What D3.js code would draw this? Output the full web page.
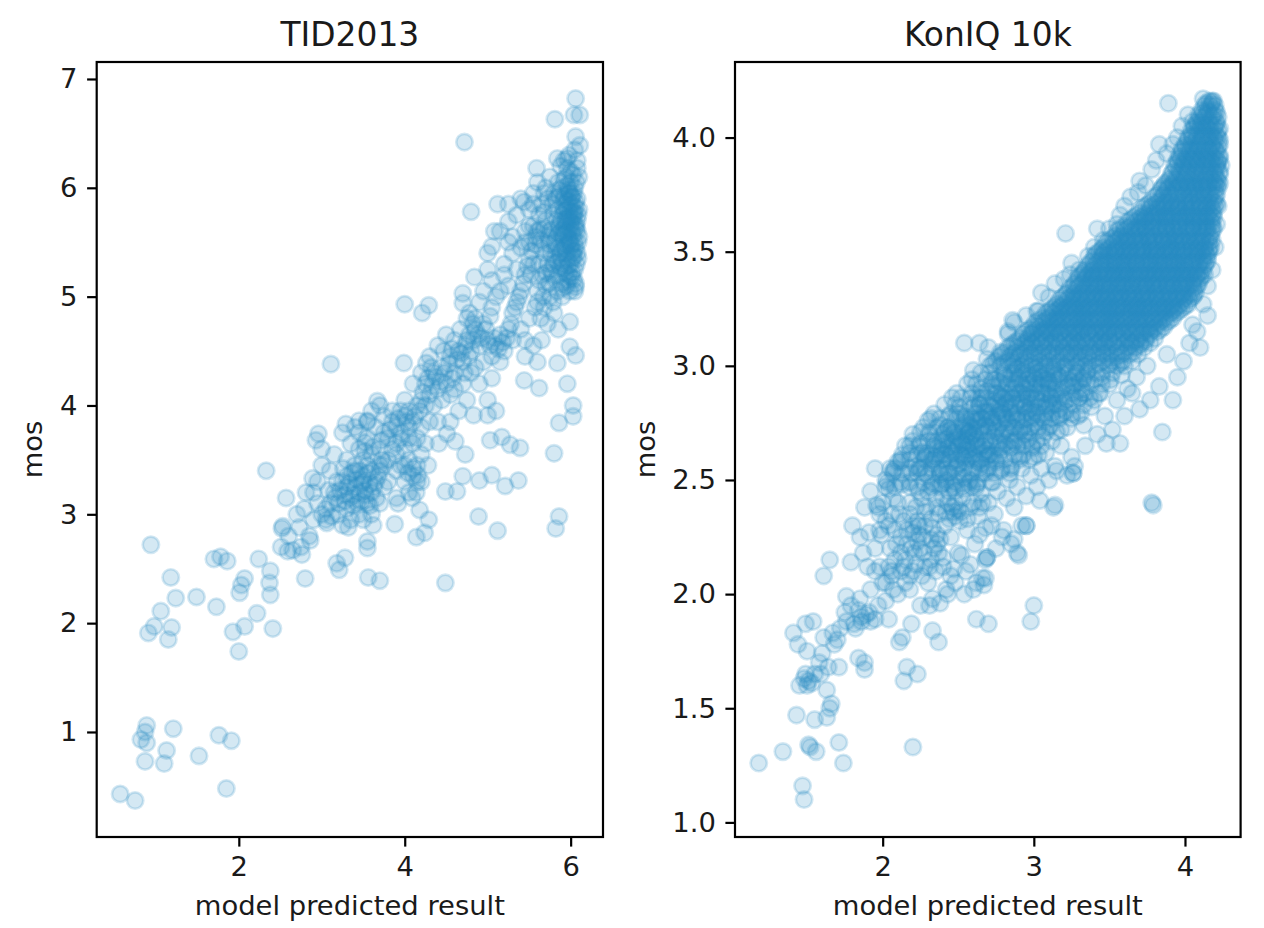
<!DOCTYPE html>
<html>
<head>
<meta charset="utf-8">
<script src="https://cdn.jsdelivr.net/npm/d3@7"></script>
<style>
  body { margin: 0; background: #fff; }
  svg { display: block; }
</style>
</head>
<body>
<svg id="chart" width="1264" height="928"></svg>
<script>
// ---- data ----

// TID2013: [model predicted result, mos]
const tidPoints = [
  // bottom-left group
  [0.57,0.43],[0.75,0.37],[0.89,1.06],[0.87,1.00],[0.82,0.93],[0.89,0.90],[0.87,0.73],[1.13,0.83],[1.10,0.71],[1.21,1.03],
  [1.52,0.78],[1.76,0.97],[1.91,0.92],[1.85,0.48],
  // lower middle
  [0.94,2.72],[1.18,2.42],[1.24,2.23],[1.06,2.11],[0.98,1.97],[0.91,1.91],[1.19,1.96],[1.15,1.85],[1.49,2.24],[1.73,2.15],
  [1.70,2.59],[1.78,2.61],[1.86,2.57],[1.93,1.92],[2.00,1.74],[2.07,1.97],[2.01,2.28],[2.03,2.35],[2.07,2.41],[2.22,2.09],
  [2.24,2.59],[2.38,2.48],[2.37,2.37],[2.38,2.26],[2.41,1.95],[2.33,3.40],[2.80,2.41],[2.86,2.76],[2.76,2.63],[2.65,2.67],
  [2.51,2.70],[2.59,2.66],[2.52,2.87],[2.53,2.89],[2.73,2.88],[2.57,3.15],[2.79,3.05],[2.81,3.20],[2.89,3.33],[3.06,2.92],
  [3.18,2.55],[3.28,2.60],[3.21,2.49],[3.55,2.69],[3.55,2.75],[3.56,2.42],[3.70,2.39],[3.88,2.91],[3.92,3.10],[4.14,2.79],
  [4.24,2.83],[4.29,2.95],[4.18,3.04],[4.49,2.37],[4.49,3.21],[4.63,3.21],[4.70,3.35],[4.90,3.31],[5.05,3.36],[5.21,3.26],
  [5.37,3.31],[4.89,2.98],[5.12,2.85],[5.86,2.98],[5.82,2.87],
  [2.60,2.80],[2.70,3.00],[2.75,2.70],[2.90,2.95],[2.95,3.10],[3.05,3.05],[2.85,2.80],
  // dense group around 3.4 / 3.2
  [3.15,3.20],[3.20,3.10],[3.25,3.30],[3.30,3.05],[3.35,3.15],[3.40,3.25],[3.45,3.00],[3.50,3.35],[3.55,3.10],[3.60,3.20],
  [3.65,3.30],[3.70,3.40],[3.50,2.95],[3.40,3.45],[3.30,3.35],[3.20,3.00],[3.10,3.10],[3.60,3.00],[3.70,3.10],[3.75,3.25],
  [3.45,3.20],[3.35,2.95],[3.55,3.45],[3.62,2.90],[3.00,3.00],[3.05,2.95],[3.25,2.90],[3.38,3.08],[3.48,3.12],[3.58,3.28],
  [3.42,3.32],[3.28,3.18],[3.18,3.30],[3.52,3.22],[3.66,3.15],[3.72,3.50],[3.12,2.98],[3.32,2.88],
  [3.22,3.22],[3.28,3.12],[3.33,3.28],[3.38,3.18],[3.43,3.10],[3.48,3.28],[3.53,3.18],[3.58,3.08],[3.63,3.25],[3.68,3.35],
  [3.36,3.38],[3.46,3.40],[3.56,3.38],[3.26,3.42],[3.16,3.15],[3.08,3.22],
  [4.04,3.38],[4.10,3.42],[4.16,3.36],[4.28,3.45],[4.14,3.20],[4.09,3.15],[4.20,3.30],[4.00,3.45],
  // middle
  [3.50,3.50],[3.60,3.55],[3.70,3.60],[3.80,3.70],[3.90,3.80],[4.00,3.90],[3.85,3.85],[3.75,3.90],[3.65,3.80],[3.55,3.70],
  [3.45,3.60],[3.95,3.75],[4.05,3.80],[4.10,3.85],[3.70,3.45],[3.80,3.50],[3.90,3.55],[4.00,3.60],[4.10,3.65],[4.15,3.70],
  [4.20,3.80],[3.60,3.40],[3.50,3.30],[3.40,3.40],[3.30,3.50],[3.45,3.75],[3.60,3.95],[3.75,3.75],[3.90,3.65],[4.05,3.50],
  [4.15,3.45],[4.20,3.55],[4.10,3.35],[4.00,3.30],[3.90,3.40],[3.80,3.30],[4.25,3.65],[4.30,3.85],[3.85,3.95],[3.95,3.95],
  [4.00,4.05],[3.70,4.00],[3.55,3.85],[3.35,3.65],[4.05,3.70],[3.95,3.45],[4.15,3.30],[4.05,3.20],[3.90,3.15],[3.30,3.25],
  [3.10,3.40],[2.95,3.30],[3.00,3.45],[2.90,3.20],[3.15,3.55],[3.25,3.75],[3.00,3.60],[3.40,3.80],
  [3.75,3.45],[3.85,3.60],[3.95,3.70],[4.02,3.85],[3.92,3.88],[3.82,3.78],[3.72,3.68],[3.62,3.62],[3.52,3.58],
  // upper outliers and fringe
  [3.11,4.38],[3.99,4.39],[4.00,4.93],[4.21,4.85],[4.29,4.92],[4.26,4.39],[3.67,4.04],[3.29,3.83],[3.45,3.86],[3.55,3.86],
  [2.93,3.68],[2.96,3.74],[3.52,3.66],[4.72,6.42],[4.80,5.78],[4.70,5.03],[4.70,4.94],[4.84,5.18],[4.85,4.80],[5.03,4.82],
  [5.00,5.40],[5.05,5.46],[5.08,5.60],[5.12,5.85],[5.25,5.85],[5.25,5.69],[5.44,5.87],[5.59,6.18],[5.81,6.63],[6.06,6.82],
  [6.04,6.67],[6.11,6.67],[6.11,6.39],[6.06,6.47],[5.84,6.27],[5.96,6.27],[6.06,5.09],[6.06,4.46],[5.96,4.20],[6.03,4.00],
  [6.03,3.90],[5.86,3.84],[5.80,3.56],[5.84,4.39],[5.99,4.54],[5.99,4.77],[5.62,4.16],[5.44,4.23],[5.03,3.68],[5.17,3.71],
  [5.27,3.64],[5.39,3.61],[4.83,3.91],[5.00,3.91],[4.73,3.55],[4.61,3.67],[4.51,3.74],[4.41,3.65],
  // rising band
  [4.20,4.05],[4.25,4.20],[4.30,4.10],[4.35,4.30],[4.40,4.15],[4.45,4.35],[4.50,4.20],[4.55,4.45],[4.60,4.30],[4.65,4.50],
  [4.70,4.40],[4.75,4.60],[4.80,4.50],[4.85,4.70],[4.90,4.55],[4.95,4.75],[5.00,4.60],[5.05,4.45],[5.10,4.55],[5.15,4.65],
  [5.20,4.50],[5.25,4.70],[5.30,4.85],[5.35,4.95],[5.40,5.05],[5.45,5.20],[5.50,5.35],[5.35,5.25],[5.25,5.10],[5.20,5.20],
  [5.15,5.05],[5.40,4.70],[5.45,4.60],[5.50,4.80],[5.30,4.60],[4.40,4.55],[4.50,4.65],[4.60,4.60],[4.75,4.80],[4.78,4.85],
  [4.82,4.75],[4.90,4.95],[4.30,4.45],[4.20,4.30],[4.10,4.20],[4.15,4.00],[4.05,3.95],[4.35,4.00],[4.45,4.05],[4.55,4.10],
  [4.60,4.15],[4.70,4.20],[4.80,4.30],[4.85,4.35],[4.95,4.40],[5.05,4.25],[5.15,4.40],[4.65,3.95],[4.75,4.05],[4.90,4.20],
  [5.00,4.05],[5.10,3.95],[4.55,3.85],[4.40,3.85],[5.45,4.45],[5.55,4.55],[5.60,4.40],[5.50,5.50],[5.45,5.60],[5.40,5.45],
  [5.55,5.65],[5.50,5.80],[5.30,5.40],[5.05,4.90],[5.10,5.00],
  [5.30,5.55],[5.35,5.75],[5.40,5.90],[5.45,5.50],[5.50,5.65],[5.55,5.95],[5.60,6.05],[5.65,5.85],[5.20,5.30],[5.25,5.50],
  [5.15,5.60],[5.05,5.15],[5.00,5.25],[4.95,5.05],[5.70,6.00],[5.60,5.60],[5.52,5.20],
  [4.22,4.12],[4.28,4.25],[4.33,4.18],[4.38,4.26],[4.43,4.22],[4.48,4.30],[4.53,4.38],[4.58,4.25],[4.63,4.42],[4.68,4.48],
  [4.73,4.55],[4.78,4.65],[4.83,4.60],[4.88,4.65],[4.93,4.62],[4.98,4.70],[5.03,4.55],[5.08,4.62],[5.13,4.52],[5.18,4.58],
  [5.23,4.62],[5.28,4.75],[5.33,4.90],[5.38,5.00],[5.43,5.12],[5.48,5.28],[5.53,5.42],[4.18,3.95],[4.12,3.90],[4.25,4.00],
  [4.32,4.35],[4.47,4.50],[4.57,4.52],[4.67,4.70],[4.72,4.30],[4.77,4.45],[5.58,5.48],[5.63,5.62],[5.68,5.78],[5.73,5.90],
  // dense column near 6
  [5.95,6.10],[6.00,6.05],[6.05,6.00],[5.98,5.95],[6.08,5.90],[5.92,5.90],[6.02,5.85],[5.96,5.80],[6.10,5.80],[6.04,5.75],
  [5.90,5.75],[6.00,5.70],[6.07,5.65],[5.94,5.65],[6.02,5.60],[5.88,5.60],[6.10,5.55],[5.97,5.55],[6.05,5.50],[5.92,5.50],
  [6.00,5.45],[5.85,5.45],[6.08,5.40],[5.95,5.40],[6.02,5.35],[5.90,5.30],[6.05,5.25],[5.98,5.20],[5.86,5.20],[6.00,6.15],
  [5.90,6.00],[6.10,6.10],[6.04,5.95],[5.94,5.85],[6.08,5.70],[5.99,5.62],[5.93,5.58],[6.06,5.45],[5.88,5.35],[6.00,5.30],
  [5.82,5.15],[5.95,5.10],[6.05,5.05],[5.90,5.00],[5.85,6.05],[5.80,5.95],[5.78,5.85],[5.83,5.70],[5.75,5.60],[5.80,5.50],
  [5.76,5.40],[5.72,5.30],[5.78,5.20],[5.70,5.10],[5.75,5.00],[5.68,4.90],[5.80,4.85],[5.72,4.75],[5.65,4.60],[5.85,4.70],
  [5.60,4.95],[5.62,5.15],[5.55,5.30],[5.65,5.45],[5.58,5.55],[5.70,5.70],[5.62,5.75],[5.55,5.85],[5.68,5.95],[5.75,6.10],
  [5.88,6.20],[5.98,6.30],[6.05,6.35],[6.08,6.25],[5.92,6.25],
  [5.96,5.68],[6.03,5.72],[5.91,5.62],[6.08,5.60],[5.99,5.52],[6.04,5.42],[5.93,5.45],[6.09,5.35],[5.97,5.28],[5.87,5.40],
  [6.01,5.18],[5.94,5.22],[6.06,5.12],[5.89,5.12],[5.99,5.78],[6.06,5.82],[5.91,5.82],[6.02,5.92],[5.96,6.02],[6.07,6.05],
  [5.86,5.92],[5.83,5.55],[5.86,5.65],[5.81,5.35],[5.76,5.25],[5.84,5.05],[5.79,4.95],[5.73,5.55],[5.69,5.40],[5.66,5.20],
  [5.60,5.05],[5.57,4.90],[5.64,4.80],[6.00,5.95],[5.97,5.88],[6.03,5.78],[5.95,5.72],[6.05,5.66],[5.98,5.50],[6.02,5.40],
  [5.97,5.98],[6.01,5.91],[5.93,5.93],[6.06,5.87],[5.99,5.84],[5.92,5.78],[6.05,5.77],[5.98,5.73],[6.09,5.75],[5.93,5.70],
  [6.01,5.67],[6.06,5.62],[5.96,5.60],[5.90,5.56],[6.03,5.56],[6.09,5.50],[5.95,5.47],[6.01,5.48],[5.89,5.43],[6.04,5.37],
  [5.96,5.34],[6.07,5.30],[5.92,5.26],[6.02,5.22],[5.97,5.15],[6.04,5.16],[5.91,5.08],[5.99,5.05],[5.87,5.27],[5.84,5.32],
  [5.82,5.45],[5.85,5.58],[5.88,5.70],[5.84,5.80],[5.82,5.90],[5.87,5.98],[5.92,6.08],[6.03,6.12],[6.08,6.18],[5.96,6.18],
  [5.79,5.75],[5.77,5.62],[5.74,5.48],[5.79,5.30],[5.71,5.22],[5.74,5.12],[5.67,5.00],[5.62,5.30],[5.68,5.62],[5.64,5.52]
];

// KonIQ 10k: scattered points [model predicted result, mos]
const koniqPoints = [
  // lower tail
  [1.18,1.26],[1.34,1.31],[1.47,1.16],[1.48,1.10],[1.43,1.47],[1.51,1.34],[1.52,1.33],[1.56,1.31],[1.55,1.45],[1.63,1.46],
  [1.65,1.50],[1.66,1.52],[1.63,1.58],[1.71,1.35],[1.74,1.26],[2.20,1.33],[1.45,1.60],[1.51,1.62],[1.55,1.65],[1.59,1.65],
  [1.64,1.68],[1.71,1.68],[1.50,1.75],[1.44,1.78],[1.41,1.83],[1.49,1.87],[1.54,1.88],[1.61,1.81],[1.67,1.83],[1.72,1.85],
  [1.76,1.88],[1.81,1.87],[1.86,1.90],[1.91,1.92],[1.95,1.89],[1.84,1.72],[1.88,1.70],[1.88,1.67],[1.76,1.99],[1.85,1.98],
  [2.04,1.89],[2.11,1.79],[2.13,1.81],[2.19,1.87],[2.16,1.68],[2.14,1.62],[2.23,1.65],[2.33,1.84],[2.37,1.79],[2.25,1.95],
  [2.31,1.95],[2.43,2.00],[2.54,2.00],[2.62,1.89],[2.70,1.87],[2.98,1.88],[3.00,1.95],[2.67,2.04],[2.68,2.07],[2.69,2.16],
  [2.90,2.17],[2.95,2.30],[3.13,2.38],[3.04,2.41],[3.26,2.53],[3.79,2.39],[2.79,2.25],[2.87,2.24],[1.96,2.39],[1.80,2.30],
  [1.91,2.27],[1.99,2.26],[1.65,2.15],[1.61,2.08],[1.79,2.14],[1.87,2.18],[1.95,2.55],[2.07,2.54],[2.04,2.46],[2.47,2.11],
  [2.52,2.17],[3.14,2.56],[3.27,2.56],
  [1.48,1.63],[1.50,1.60],[1.53,1.61],[1.49,1.65],[1.86,1.88],[1.89,1.91],[1.84,1.93],[1.92,1.88],[1.82,1.85],[1.70,1.80],
  [1.68,1.78],[1.58,1.70],[1.60,1.74],[1.75,1.92],[1.79,1.95],[1.97,1.95],[2.02,1.97],[2.07,2.02],[2.06,2.10],[2.00,2.05],
  [1.92,2.02],[1.98,2.12],[2.05,2.20],[2.08,2.28],[2.12,2.18],[2.16,2.22],[2.20,2.27],[2.24,2.30],[2.28,2.36],[2.22,2.13],
  [2.30,2.05],[2.35,2.10],[2.40,2.16],[2.33,1.98],[2.38,1.96],[2.45,2.08],[2.58,2.13],[2.64,2.26],[2.72,2.30],[2.60,2.02],
  // 2.0 - 2.6 band
  [1.92,2.45],[1.97,2.38],[2.02,2.50],[2.04,2.30],[2.07,2.42],[2.09,2.22],[2.11,2.35],[2.13,2.48],[2.14,2.12],[2.16,2.28],
  [2.18,2.40],[2.19,2.53],[2.21,2.18],[2.23,2.32],[2.24,2.45],[2.26,2.08],[2.27,2.25],[2.29,2.38],[2.30,2.52],[2.32,2.15],
  [2.33,2.29],[2.35,2.42],[2.36,2.22],[2.37,2.35],[2.39,2.48],[2.40,2.12],[2.41,2.30],[2.43,2.40],[2.44,2.53],[2.45,2.25],
  [2.47,2.36],[2.48,2.45],[2.50,2.18],[2.51,2.32],[2.53,2.42],[2.54,2.51],[2.56,2.28],[2.58,2.38],[2.59,2.47],[2.61,2.22],
  [2.63,2.34],[2.65,2.44],[2.66,2.53],[2.68,2.29],[2.70,2.40],[2.72,2.49],[2.74,2.35],[2.76,2.45],[2.78,2.54],[2.80,2.28],
  [2.82,2.42],[2.84,2.50],[2.87,2.38],[2.89,2.47],[2.92,2.55],[2.95,2.43],[2.98,2.52],[3.02,2.47],[3.05,2.55],[3.10,2.50],
  [3.15,2.54],[3.22,2.52],
  [2.42,2.36],[2.46,2.38],[2.48,2.34],[2.44,2.33],[2.50,2.37],[2.36,2.26],[2.38,2.24],[2.34,2.20],[2.37,2.18],[2.32,2.24],
  [2.12,2.25],[2.08,2.15],[2.15,2.05],[2.20,2.10],[2.25,2.20],[2.28,2.12],[2.06,2.08],[2.02,2.05],[2.10,2.00],[2.18,2.02],
  [1.98,2.28],[1.95,2.20],[2.00,2.40],[2.05,2.55],[2.10,2.58],[1.88,2.38],[1.85,2.25],[2.55,2.58],[2.60,2.55],[2.70,2.56],
  [2.75,2.58],[2.85,2.56],[2.90,2.60],[3.00,2.60],[3.08,2.62],[3.18,2.65],[3.25,2.60],[2.62,2.05],[2.55,2.10],[2.48,2.05],
  [2.42,2.02],[2.68,2.15],[2.75,2.20],[2.85,2.22],[2.92,2.30],
  [2.18,2.35],[2.22,2.38],[2.26,2.42],[2.30,2.45],[2.34,2.48],[2.38,2.52],[2.42,2.50],[2.46,2.48],[2.50,2.52],[2.54,2.46],
  [2.58,2.50],[2.62,2.48],[2.66,2.40],[2.20,2.30],[2.24,2.26],[2.28,2.30],[2.32,2.33],[2.36,2.38],[2.40,2.42],[2.44,2.45],
  [2.48,2.40],[2.52,2.36],[2.56,2.33],[2.60,2.40],[2.64,2.38],[2.15,2.15],[2.19,2.20],[2.23,2.23],[2.27,2.18],[2.31,2.12],
  [2.14,2.32],[2.10,2.40],[2.06,2.35],[2.02,2.32],[1.98,2.35],[2.12,2.10],[2.18,2.08],[2.04,2.12],[1.95,2.10],[1.90,2.12],
  // 2.55 - 3.0 band
  [2.12,2.58],[2.18,2.62],[2.22,2.56],[2.25,2.66],[2.28,2.60],[2.31,2.70],[2.33,2.57],[2.36,2.64],[2.38,2.74],[2.40,2.59],
  [2.42,2.68],[2.44,2.78],[2.46,2.62],[2.48,2.71],[2.50,2.57],[2.51,2.82],[2.53,2.66],[2.55,2.75],[2.57,2.60],[2.58,2.86],
  [2.60,2.70],[2.62,2.79],[2.63,2.58],[2.65,2.90],[2.66,2.65],[2.68,2.74],[2.70,2.83],[2.71,2.61],[2.73,2.94],[2.74,2.69],
  [2.76,2.78],[2.78,2.87],[2.79,2.63],[2.81,2.96],[2.82,2.72],[2.84,2.81],[2.86,2.90],[2.87,2.67],[2.89,2.76],[2.91,2.85],
  [2.92,2.97],[2.94,2.70],[2.96,2.80],[2.97,2.92],[2.99,2.64],[3.01,2.75],[3.02,2.88],[3.04,2.97],[3.06,2.69],[3.08,2.82],
  [3.10,2.93],[3.12,2.77],[3.14,2.86],[3.16,2.96],[3.18,2.72],[3.20,2.84],[3.22,2.91],[3.25,2.79],[3.27,2.95],[3.30,2.86],
  [3.33,2.74],[3.35,2.93],[3.38,2.82],[3.41,2.97],[3.44,2.88],[3.47,2.78],[3.50,2.92],[3.55,2.85],[3.58,2.96],[3.62,2.90],
  [2.15,2.65],[2.20,2.70],[2.26,2.62],[2.30,2.76],[2.34,2.67],[2.39,2.63],[2.43,2.73],[2.47,2.66],[2.49,2.79],[2.52,2.61],
  [2.56,2.70],[2.59,2.77],[2.61,2.64],[2.64,2.83],[2.67,2.70],[2.69,2.60],[2.72,2.77],[2.75,2.88],[2.77,2.66],[2.80,2.79],
  [2.83,2.92],[2.85,2.70],[2.88,2.83],[2.90,2.95],[2.93,2.76],[2.95,2.87],[2.98,2.73],[3.00,2.95],[3.03,2.82],[3.05,2.91],
  [3.07,2.76],[3.11,2.87],[3.13,2.98],[3.17,2.81],[3.19,2.90],[3.23,2.97],[3.26,2.86],[3.29,2.78],[3.32,2.90],[3.36,2.98],
  [3.40,2.85],[3.45,2.95],
  [2.40,2.70],[2.45,2.72],[2.54,2.72],[2.58,2.74],[2.63,2.76],[2.68,2.80],[2.72,2.82],[2.76,2.84],[2.80,2.86],[2.84,2.88],
  [2.88,2.90],[2.92,2.92],[2.96,2.94],[3.00,2.90],[3.05,2.95],[3.09,2.97],[2.62,2.68],[2.70,2.72],[2.78,2.75],[2.86,2.78],
  [2.94,2.82],[3.02,2.85],[3.10,2.90],[2.50,2.65],[2.55,2.67],
  [2.55,2.78],[2.60,2.82],[2.65,2.86],[2.69,2.89],[2.73,2.91],[2.77,2.93],[2.81,2.95],[2.85,2.97],[2.89,2.99],[2.93,2.98],
  [2.97,2.96],[3.01,2.99],[3.05,2.98],[3.09,2.94],[3.13,2.93],[3.17,2.95],[3.21,2.99],[3.25,2.93],[3.29,2.97],[3.33,2.95],
  [2.58,2.66],[2.62,2.72],[2.66,2.77],[2.70,2.80],[2.74,2.85],[2.78,2.81],[2.82,2.84],[2.86,2.86],[2.90,2.88],[2.94,2.90],
  [2.98,2.86],[3.02,2.92],[3.06,2.88],[3.10,2.84],[3.14,2.90],[3.18,2.87],[3.22,2.85],[3.26,2.91],[3.30,2.93],[3.34,2.88],
  [2.45,2.63],[2.49,2.69],[2.53,2.74],[2.57,2.71],[2.61,2.76],[2.65,2.73],[2.69,2.78],[2.73,2.75],[2.77,2.80],[2.81,2.77],
  [2.85,2.82],[2.89,2.79],[2.93,2.84],[2.97,2.81],[3.01,2.80],[3.05,2.84],[3.09,2.81],[3.13,2.83],[3.17,2.78],[3.21,2.80],
  [2.35,2.60],[2.39,2.66],[2.43,2.64],[2.47,2.70],[2.51,2.68],[2.55,2.63],[2.59,2.69],[2.63,2.65],[2.67,2.62],[2.71,2.67],
  [2.75,2.72],[2.79,2.70],[2.83,2.75],[2.87,2.73],[2.91,2.72],[2.95,2.77],[2.99,2.78],[3.03,2.72],[3.07,2.79],[3.11,2.74],
  [2.25,2.55],[2.29,2.62],[2.33,2.59],[2.37,2.55],[2.41,2.61],[2.45,2.58],[2.49,2.56],[2.53,2.60],[2.57,2.63],[2.61,2.60],
  [2.65,2.57],[2.69,2.63],[2.73,2.61],[2.77,2.64],[2.81,2.66],[2.85,2.64],[2.89,2.68],[2.93,2.65],[2.97,2.68],
  // fringe above the main body
  [3.83,3.97],[3.81,3.90],[3.70,3.81],[3.64,3.74],[3.42,3.60],[3.21,3.58],[3.25,3.45],[3.24,3.40],[3.05,3.32],[3.02,3.24],
  [2.86,3.20],[2.83,3.14],[2.54,3.10],[2.64,3.10],[2.69,3.03],[2.83,3.15],[2.87,3.19],[3.03,3.24],[3.89,4.15],[4.12,4.17],
  [4.18,4.16],[4.05,4.07],[3.95,4.00],[3.88,3.93],[3.78,3.86],[3.74,3.79],[3.57,3.66],[3.50,3.60],[3.46,3.55],[3.36,3.48],
  [3.30,3.42],[3.14,3.36],[3.10,3.30],[2.95,3.22],[2.78,3.06],[2.60,2.98],[2.70,3.08],[3.60,3.70],[3.55,3.62],[3.98,4.05],
  [4.02,4.10],[3.92,3.97],[3.69,3.76],[3.40,3.52],[3.20,3.38],[2.98,3.14],
  // fringe below the main body
  [4.12,3.27],[4.05,3.18],[4.10,3.08],[4.03,3.10],[3.99,3.02],[3.75,3.00],[3.83,2.91],[3.92,2.85],[3.85,2.71],[3.78,2.40],
  [3.57,2.66],[3.48,2.66],[3.34,2.65],[3.26,2.53],[3.14,2.39],[2.95,2.30],[2.89,2.18],[2.69,2.16],[2.66,2.07],[3.70,2.81],
  [3.77,2.85],[3.65,2.88],[3.60,2.78],[3.52,2.72],[3.42,2.70],[3.95,2.95],[4.08,3.15],[4.15,3.35],[4.18,3.42],[4.20,3.52],
  [4.21,3.62],[4.22,3.70],[4.23,3.80],[4.24,3.88],[4.15,3.22],[3.88,3.05],[3.68,2.95]
];

// KonIQ 10k: the wide middle band, one row per mos level: [mos, [model predicted result, ...]]
const koniqBandRows = [
  [2.97, [2.65, 2.71, 2.80, 2.87, 2.96, 3.02, 3.13, 3.18, 3.28, 3.35, 3.45, 3.52]],
  [2.94, [2.59, 2.68, 2.75, 2.85, 2.90, 3.01, 3.07, 3.16, 3.23, 3.33, 3.40, 3.51]],
  [2.92, [2.56, 2.62, 2.72, 2.79, 2.88, 2.95, 3.05, 3.10, 3.21, 3.27, 3.38, 3.45]],
  [2.88, [2.49, 2.59, 2.66, 2.76, 2.81, 2.92, 2.98, 3.08, 3.15, 3.25, 3.32, 3.43]],
  [2.86, [2.46, 2.52, 2.63, 2.69, 2.79, 2.86, 2.96, 3.02, 3.12, 3.19, 3.30, 3.37]],
  [2.83, [2.41, 2.48, 2.58, 2.64, 2.75, 2.81, 2.91, 2.98, 3.08, 3.15, 3.26, 3.33]],
  [2.79, [2.34, 2.45, 2.51, 2.61, 2.68, 2.79, 2.85, 2.95, 3.02, 3.12, 3.19, 3.31]],
  [2.77, [2.32, 2.38, 2.49, 2.55, 2.65, 2.72, 2.82, 2.89, 2.99, 3.06, 3.17, 3.25]],
  [2.73, [2.27, 2.36, 2.43, 2.53, 2.59, 2.70, 2.76, 2.86, 2.93, 3.03, 3.10, 3.22]],
  [2.71, [2.25, 2.31, 2.41, 2.47, 2.57, 2.64, 2.74, 2.80, 2.91, 2.97, 3.08, 3.15]],
  [2.67, [2.20, 2.30, 2.36, 2.46, 2.52, 2.62, 2.68, 2.78, 2.85, 2.95, 3.02, 3.12]],
  [2.65, [2.18, 2.24, 2.34, 2.40, 2.50, 2.56, 2.66, 2.72, 2.83, 2.89, 2.99, 3.05]],
  [2.61, [2.13, 2.23, 2.29, 2.39, 2.45, 2.55, 2.60, 2.70, 2.77, 2.87, 2.93, 3.03]],
  [2.59, [2.12, 2.18, 2.28, 2.34, 2.44, 2.49, 2.59, 2.65, 2.75, 2.81, 2.91, 2.97]],
  [2.55, [2.08, 2.18, 2.24, 2.33, 2.39, 2.48, 2.54, 2.64, 2.70, 2.79, 2.85]],
  [2.53, [2.07, 2.13, 2.23, 2.28, 2.38, 2.43, 2.53, 2.59, 2.68, 2.74, 2.84]],
  [2.49, [2.03, 2.12, 2.18, 2.27, 2.33, 2.42, 2.48, 2.57, 2.63, 2.73]],
  [2.47, [2.02, 2.08, 2.18, 2.23, 2.32, 2.38, 2.47, 2.53, 2.62]]
];

// KonIQ 10k: solid upper body, one row per mos level
const koniqCoreRows = [
  [4.15, [4.14, 4.18]],
  [4.12, [4.11, 4.15, 4.20]],
  [4.10, [4.09, 4.14, 4.19]],
  [4.07, [4.08, 4.11, 4.16, 4.21]],
  [4.05, [4.06, 4.10, 4.14, 4.20]],
  [4.03, [4.04, 4.09, 4.12, 4.17, 4.22]],
  [4.00, [4.02, 4.05, 4.11, 4.15, 4.19, 4.22]],
  [3.97, [4.00, 4.04, 4.09, 4.13, 4.18, 4.23]],
  [3.95, [3.98, 4.03, 4.06, 4.11, 4.16, 4.20]],
  [3.92, [3.96, 4.01, 4.05, 4.10, 4.14, 4.18, 4.23]],
  [3.90, [3.95, 3.99, 4.04, 4.08, 4.13, 4.17, 4.22]],
  [3.88, [3.93, 3.98, 4.02, 4.07, 4.12, 4.15, 4.21]],
  [3.85, [3.92, 3.96, 4.01, 4.05, 4.09, 4.14, 4.19, 4.23]],
  [3.82, [3.90, 3.94, 3.99, 4.03, 4.08, 4.13, 4.17, 4.21]],
  [3.80, [3.87, 3.92, 3.97, 4.01, 4.06, 4.10, 4.16, 4.20]],
  [3.78, [3.85, 3.89, 3.95, 3.99, 4.04, 4.07, 4.12, 4.18, 4.22]],
  [3.75, [3.82, 3.86, 3.91, 3.96, 4.00, 4.05, 4.09, 4.13, 4.17, 4.21]],
  [3.72, [3.78, 3.83, 3.88, 3.91, 3.97, 4.02, 4.05, 4.10, 4.15, 4.19]],
  [3.70, [3.74, 3.78, 3.84, 3.88, 3.93, 3.96, 4.01, 4.07, 4.11, 4.15, 4.20]],
  [3.67, [3.70, 3.76, 3.80, 3.83, 3.89, 3.94, 3.98, 4.02, 4.06, 4.12, 4.16, 4.19]],
  [3.65, [3.66, 3.71, 3.74, 3.80, 3.85, 3.88, 3.93, 3.99, 4.03, 4.07, 4.11, 4.15, 4.19]],
  [3.63, [3.62, 3.67, 3.71, 3.76, 3.79, 3.84, 3.89, 3.94, 3.97, 4.01, 4.06, 4.10, 4.14, 4.18]],
  [3.60, [3.57, 3.62, 3.67, 3.71, 3.74, 3.80, 3.85, 3.88, 3.93, 3.98, 4.03, 4.06, 4.12, 4.15, 4.19]],
  [3.57, [3.54, 3.58, 3.61, 3.67, 3.72, 3.76, 3.80, 3.84, 3.90, 3.94, 3.97, 4.03, 4.08, 4.12, 4.17]],
  [3.55, [3.50, 3.55, 3.60, 3.64, 3.69, 3.72, 3.77, 3.83, 3.86, 3.91, 3.96, 4.00, 4.04, 4.09, 4.14, 4.18]],
  [3.52, [3.46, 3.51, 3.56, 3.59, 3.64, 3.70, 3.73, 3.78, 3.82, 3.88, 3.91, 3.95, 4.01, 4.05, 4.09, 4.13, 4.17]],
  [3.50, [3.43, 3.47, 3.53, 3.57, 3.61, 3.65, 3.71, 3.75, 3.79, 3.84, 3.89, 3.92, 3.97, 4.02, 4.07, 4.11, 4.16]],
  [3.48, [3.40, 3.45, 3.49, 3.53, 3.59, 3.63, 3.67, 3.72, 3.77, 3.81, 3.85, 3.90, 3.95, 3.99, 4.03, 4.08, 4.12, 4.15]],
  [3.45, [3.37, 3.42, 3.47, 3.51, 3.55, 3.60, 3.65, 3.68, 3.74, 3.78, 3.83, 3.87, 3.92, 3.96, 4.00, 4.05, 4.10, 4.14]],
  [3.42, [3.34, 3.39, 3.44, 3.48, 3.53, 3.58, 3.61, 3.66, 3.71, 3.76, 3.80, 3.84, 3.89, 3.94, 3.98, 4.02, 4.07, 4.12]],
  [3.40, [3.32, 3.36, 3.40, 3.46, 3.50, 3.54, 3.59, 3.63, 3.68, 3.73, 3.77, 3.81, 3.86, 3.91, 3.95, 3.99, 4.04, 4.08, 4.13]],
  [3.38, [3.29, 3.34, 3.38, 3.42, 3.47, 3.52, 3.56, 3.61, 3.65, 3.69, 3.75, 3.79, 3.83, 3.88, 3.92, 3.97, 4.01, 4.06, 4.10]],
  [3.35, [3.26, 3.30, 3.35, 3.40, 3.44, 3.48, 3.53, 3.58, 3.62, 3.66, 3.71, 3.75, 3.80, 3.85, 3.89, 3.93, 3.98, 4.03, 4.08]],
  [3.32, [3.22, 3.27, 3.32, 3.36, 3.40, 3.45, 3.50, 3.54, 3.58, 3.63, 3.68, 3.72, 3.76, 3.81, 3.86, 3.90, 3.95, 3.99, 4.04, 4.07]],
  [3.30, [3.19, 3.24, 3.28, 3.33, 3.38, 3.42, 3.46, 3.51, 3.56, 3.60, 3.64, 3.69, 3.74, 3.78, 3.82, 3.87, 3.92, 3.96, 4.00, 4.05]],
  [3.27, [3.15, 3.20, 3.25, 3.29, 3.33, 3.38, 3.43, 3.47, 3.51, 3.56, 3.61, 3.65, 3.69, 3.74, 3.79, 3.83, 3.87, 3.92, 3.97, 4.02]],
  [3.25, [3.12, 3.17, 3.21, 3.26, 3.30, 3.35, 3.39, 3.44, 3.49, 3.53, 3.57, 3.62, 3.67, 3.71, 3.75, 3.80, 3.85, 3.89, 3.93, 3.98]],
  [3.23, [3.08, 3.13, 3.17, 3.22, 3.27, 3.31, 3.35, 3.40, 3.45, 3.49, 3.53, 3.58, 3.63, 3.67, 3.71, 3.76, 3.81, 3.85, 3.90, 3.94]],
  [3.20, [3.03, 3.08, 3.13, 3.17, 3.21, 3.26, 3.31, 3.35, 3.39, 3.44, 3.49, 3.53, 3.57, 3.62, 3.67, 3.71, 3.75, 3.80, 3.85, 3.90]],
  [3.17, [2.99, 3.04, 3.09, 3.13, 3.17, 3.22, 3.27, 3.31, 3.35, 3.40, 3.45, 3.49, 3.53, 3.58, 3.63, 3.67, 3.72, 3.77, 3.81, 3.86]],
  [3.15, [2.95, 3.00, 3.05, 3.09, 3.13, 3.18, 3.23, 3.27, 3.31, 3.36, 3.41, 3.45, 3.49, 3.54, 3.59, 3.63, 3.68, 3.73, 3.77, 3.82]],
  [3.12, [2.91, 2.96, 3.03, 3.08, 3.14, 3.21, 3.26, 3.33, 3.38, 3.45, 3.50, 3.57, 3.62, 3.69, 3.74, 3.80]],
  [3.10, [2.87, 2.94, 2.99, 3.05, 3.12, 3.17, 3.24, 3.29, 3.35, 3.42, 3.47, 3.53, 3.60, 3.65, 3.71, 3.77]],
  [3.08, [2.83, 2.89, 2.96, 3.01, 3.07, 3.14, 3.19, 3.26, 3.31, 3.37, 3.44, 3.49, 3.55, 3.62, 3.67, 3.73]],
  [3.05, [2.79, 2.86, 2.91, 2.98, 3.03, 3.10, 3.15, 3.22, 3.27, 3.34, 3.39, 3.46, 3.51, 3.58, 3.63, 3.69]],
  [3.02, [2.75, 2.83, 2.89, 2.96, 3.04, 3.10, 3.17, 3.25, 3.31, 3.38, 3.46, 3.52, 3.59, 3.65]],
  [3.00, [2.71, 2.78, 2.86, 2.92, 2.99, 3.07, 3.13, 3.20, 3.28, 3.34, 3.41, 3.49, 3.55, 3.60]]
];

// KonIQ 10k: second pass over the solid body, between the rows above
const koniqCoreRowsB = [
  [4.16, [4.16, 4.19]],
  [4.14, [4.13, 4.17, 4.20]],
  [4.11, [4.12, 4.16, 4.21]],
  [4.09, [4.10, 4.13, 4.18, 4.22]],
  [4.06, [4.08, 4.12, 4.17, 4.21]],
  [4.04, [4.06, 4.11, 4.15, 4.19, 4.23]],
  [4.01, [4.04, 4.08, 4.13, 4.17, 4.21]],
  [3.99, [4.02, 4.07, 4.11, 4.16, 4.20, 4.23]],
  [3.96, [4.00, 4.05, 4.09, 4.14, 4.18, 4.22]],
  [3.94, [3.98, 4.03, 4.08, 4.12, 4.16, 4.21]],
  [3.91, [3.97, 4.02, 4.06, 4.11, 4.15, 4.20, 4.23]],
  [3.89, [3.95, 4.00, 4.05, 4.09, 4.14, 4.18, 4.22]],
  [3.87, [3.94, 3.99, 4.03, 4.08, 4.12, 4.17, 4.21]],
  [3.84, [3.91, 3.97, 4.02, 4.07, 4.11, 4.16, 4.20, 4.23]],
  [3.81, [3.89, 3.95, 4.00, 4.05, 4.10, 4.14, 4.19, 4.22]],
  [3.79, [3.86, 3.92, 3.97, 4.02, 4.07, 4.11, 4.15, 4.21]],
  [3.77, [3.84, 3.88, 3.93, 3.98, 4.02, 4.06, 4.11, 4.15, 4.20]],
  [3.74, [3.80, 3.85, 3.89, 3.94, 3.99, 4.03, 4.08, 4.12, 4.16, 4.20]],
  [3.71, [3.76, 3.81, 3.86, 3.90, 3.95, 4.00, 4.04, 4.09, 4.13, 4.17, 4.21]],
  [3.69, [3.72, 3.77, 3.82, 3.86, 3.91, 3.95, 4.00, 4.04, 4.09, 4.14, 4.18]],
  [3.66, [3.68, 3.73, 3.78, 3.82, 3.87, 3.91, 3.96, 4.01, 4.05, 4.10, 4.14, 4.18]],
  [3.64, [3.64, 3.69, 3.73, 3.78, 3.83, 3.87, 3.91, 3.96, 4.00, 4.05, 4.09, 4.13, 4.17]],
  [3.61, [3.60, 3.64, 3.69, 3.73, 3.78, 3.82, 3.87, 3.91, 3.96, 4.01, 4.05, 4.09, 4.14, 4.18]],
  [3.59, [3.55, 3.60, 3.65, 3.69, 3.74, 3.78, 3.83, 3.87, 3.92, 3.96, 4.01, 4.05, 4.10, 4.14, 4.18]],
  [3.56, [3.52, 3.57, 3.62, 3.66, 3.70, 3.75, 3.79, 3.85, 3.89, 3.93, 3.98, 4.02, 4.06, 4.11, 4.16]],
  [3.54, [3.48, 3.53, 3.58, 3.62, 3.67, 3.71, 3.76, 3.80, 3.85, 3.89, 3.94, 3.98, 4.03, 4.07, 4.11, 4.16]],
  [3.51, [3.45, 3.49, 3.54, 3.59, 3.63, 3.68, 3.72, 3.77, 3.81, 3.86, 3.90, 3.94, 3.99, 4.04, 4.08, 4.13, 4.16]],
  [3.49, [3.41, 3.46, 3.51, 3.55, 3.60, 3.64, 3.69, 3.73, 3.78, 3.82, 3.87, 3.91, 3.96, 4.00, 4.05, 4.09, 4.14]],
  [3.46, [3.39, 3.44, 3.48, 3.53, 3.57, 3.62, 3.66, 3.71, 3.76, 3.80, 3.84, 3.89, 3.93, 3.98, 4.02, 4.07, 4.12, 4.15]],
  [3.44, [3.36, 3.40, 3.45, 3.50, 3.54, 3.59, 3.63, 3.68, 3.72, 3.77, 3.82, 3.86, 3.90, 3.95, 4.00, 4.04, 4.09, 4.13]],
  [3.41, [3.33, 3.38, 3.42, 3.47, 3.52, 3.56, 3.60, 3.65, 3.70, 3.74, 3.79, 3.83, 3.88, 3.92, 3.97, 4.01, 4.06, 4.10]],
  [3.39, [3.30, 3.35, 3.39, 3.44, 3.49, 3.53, 3.58, 3.62, 3.67, 3.71, 3.76, 3.80, 3.85, 3.90, 3.94, 3.99, 4.03, 4.08, 4.11]],
  [3.36, [3.27, 3.32, 3.37, 3.41, 3.46, 3.50, 3.55, 3.59, 3.64, 3.68, 3.73, 3.78, 3.82, 3.87, 3.91, 3.96, 4.00, 4.05, 4.09]],
  [3.34, [3.24, 3.29, 3.33, 3.38, 3.42, 3.47, 3.51, 3.56, 3.60, 3.65, 3.70, 3.74, 3.79, 3.83, 3.88, 3.92, 3.97, 4.01, 4.06]],
  [3.31, [3.21, 3.26, 3.30, 3.35, 3.39, 3.44, 3.48, 3.53, 3.57, 3.62, 3.66, 3.71, 3.75, 3.80, 3.84, 3.89, 3.94, 3.98, 4.02, 4.06]],
  [3.29, [3.17, 3.22, 3.26, 3.31, 3.35, 3.40, 3.45, 3.49, 3.54, 3.58, 3.63, 3.67, 3.72, 3.76, 3.81, 3.85, 3.90, 3.94, 3.99, 4.03]],
  [3.26, [3.14, 3.18, 3.23, 3.27, 3.32, 3.37, 3.41, 3.46, 3.50, 3.55, 3.59, 3.64, 3.68, 3.73, 3.77, 3.82, 3.86, 3.91, 3.95, 4.00]],
  [3.24, [3.10, 3.15, 3.19, 3.24, 3.28, 3.33, 3.37, 3.42, 3.47, 3.51, 3.55, 3.60, 3.65, 3.69, 3.73, 3.78, 3.83, 3.87, 3.92, 3.96]],
  [3.21, [3.06, 3.10, 3.15, 3.19, 3.24, 3.29, 3.33, 3.37, 3.42, 3.47, 3.51, 3.55, 3.60, 3.64, 3.69, 3.73, 3.78, 3.83, 3.87, 3.92]],
  [3.19, [3.01, 3.06, 3.11, 3.15, 3.19, 3.24, 3.29, 3.33, 3.37, 3.42, 3.47, 3.51, 3.55, 3.60, 3.65, 3.69, 3.74, 3.79, 3.83, 3.88]],
  [3.16, [2.97, 3.02, 3.07, 3.11, 3.15, 3.20, 3.25, 3.29, 3.33, 3.38, 3.43, 3.47, 3.51, 3.56, 3.61, 3.65, 3.70, 3.75, 3.79, 3.84]],
  [3.14, [2.93, 2.99, 3.06, 3.11, 3.17, 3.24, 3.29, 3.36, 3.41, 3.47, 3.53, 3.59, 3.65, 3.71, 3.77]],
  [3.11, [2.89, 2.96, 3.02, 3.08, 3.15, 3.20, 3.27, 3.32, 3.39, 3.44, 3.50, 3.56, 3.63, 3.68, 3.74]],
  [3.09, [2.85, 2.92, 2.98, 3.04, 3.10, 3.16, 3.22, 3.28, 3.34, 3.40, 3.46, 3.52, 3.58, 3.64, 3.70]],
  [3.06, [2.81, 2.88, 2.94, 3.00, 3.06, 3.12, 3.19, 3.24, 3.30, 3.37, 3.42, 3.48, 3.55, 3.60, 3.66]],
  [3.04, [2.77, 2.84, 2.90, 2.95, 3.01, 3.07, 3.13, 3.19, 3.25, 3.31, 3.36, 3.43, 3.49, 3.55]],
  [3.01, [2.73, 2.80, 2.87, 2.94, 3.01, 3.08, 3.15, 3.22, 3.29, 3.36, 3.43, 3.50, 3.57]]
];

const tidXTicks = [2, 4, 6];
const tidYTicks = [1, 2, 3, 4, 5, 6, 7];
const koniqXTicks = [2, 3, 4];
const koniqYTicks = [1.0, 1.5, 2.0, 2.5, 3.0, 3.5, 4.0];

// ---- drawing ----
const FONT = '"DejaVu Sans", Verdana, sans-serif';
const TEXT_COLOR = '#1a1a1a';
const DOT_COLOR = '#2a8ac4';
const svg = d3.select('#chart');

function drawPanel(cfg) {
    const b = cfg.box;
    const x = d3.scaleLinear().domain(cfg.xDomain).range([b.left, b.right]);
    const y = d3.scaleLinear().domain(cfg.yDomain).range([b.bottom, b.top]);
    const g = svg.append('g');

    // clip like matplotlib axes
    svg.append('clipPath').attr('id', 'clip-' + cfg.id)
        .append('rect')
        .attr('x', b.left).attr('y', b.top)
        .attr('width', b.right - b.left).attr('height', b.bottom - b.top);

    g.append('g')
        .attr('clip-path', `url(#clip-${cfg.id})`)
        .selectAll('circle')
        .data(cfg.points)
        .enter()
        .append('circle')
        .attr('cx', d => x(d[0]))
        .attr('cy', d => y(d[1]))
        .attr('r', 8.2)
        .attr('fill', DOT_COLOR)
        .attr('fill-opacity', 0.2)
        .attr('stroke', DOT_COLOR)
        .attr('stroke-opacity', 0.2)
        .attr('stroke-width', 2.7);

    // x axis
    const xa = g.append('g')
        .attr('transform', `translate(0,${b.bottom})`)
        .call(d3.axisBottom(x).tickValues(cfg.xTicks).tickSize(9.6).tickPadding(9.6)
            .tickSizeOuter(0).tickFormat(d3.format('d')));
    // y axis
    const ya = g.append('g')
        .attr('transform', `translate(${b.left},0)`)
        .call(d3.axisLeft(y).tickValues(cfg.yTicks).tickSize(9.6).tickPadding(9.6)
            .tickSizeOuter(0).tickFormat(d3.format(cfg.yFormat)));

    [xa, ya].forEach(a => {
        a.select('.domain').remove();
        a.attr('font-size', 27.4).attr('font-family', FONT);
        a.selectAll('line').attr('stroke', '#000').attr('stroke-width', 2.2);
        a.selectAll('text').attr('fill', TEXT_COLOR);
    });

    // spines
    g.append('rect')
        .attr('x', b.left).attr('y', b.top)
        .attr('width', b.right - b.left).attr('height', b.bottom - b.top)
        .attr('fill', 'none')
        .attr('stroke', '#000')
        .attr('stroke-width', 2.2);

    const cx = (b.left + b.right) / 2;

    // title
    g.append('text')
        .attr('x', cx).attr('y', b.top - 16.5)
        .attr('text-anchor', 'middle')
        .attr('font-family', FONT).attr('font-size', 32.9)
        .attr('fill', TEXT_COLOR)
        .text(cfg.title);

    // x label
    g.append('text')
        .attr('x', cx).attr('y', 915.4)
        .attr('text-anchor', 'middle')
        .attr('font-family', FONT).attr('font-size', 27.4)
        .attr('fill', TEXT_COLOR)
        .text('model predicted result');

    // y label
    const cy = (b.top + b.bottom) / 2;
    g.append('text')
        .attr('transform', `translate(${cfg.yLabelX},${cy}) rotate(-90)`)
        .attr('text-anchor', 'middle')
        .attr('font-family', FONT).attr('font-size', 27.4)
        .attr('fill', TEXT_COLOR)
        .text('mos');
}

// expand the row-wise groups into points
const rowsToPoints = rows => rows.flatMap(([mos, preds]) => preds.map(p => [p, mos]));
const koniqAll = koniqPoints
    .concat(rowsToPoints(koniqBandRows))
    .concat(rowsToPoints(koniqCoreRows))
    .concat(rowsToPoints(koniqCoreRowsB));

drawPanel({
    id: 'tid',
    title: 'TID2013',
    points: tidPoints,
    xDomain: [0.287, 6.39],
    yDomain: [0.035, 7.156],
    xTicks: tidXTicks,
    yTicks: tidYTicks,
    yFormat: 'd',
    box: {left: 96.7, right: 603, top: 62, bottom: 837},
    yLabelX: 42.4
});

drawPanel({
    id: 'koniq',
    title: 'KonIQ 10k',
    points: koniqAll,
    xDomain: [1.023, 4.368],
    yDomain: [0.936, 4.331],
    xTicks: koniqXTicks,
    yTicks: koniqYTicks,
    yFormat: '.1f',
    box: {left: 735, right: 1240.6, top: 62, bottom: 837},
    yLabelX: 654.5
});
</script>
</body>
</html>
